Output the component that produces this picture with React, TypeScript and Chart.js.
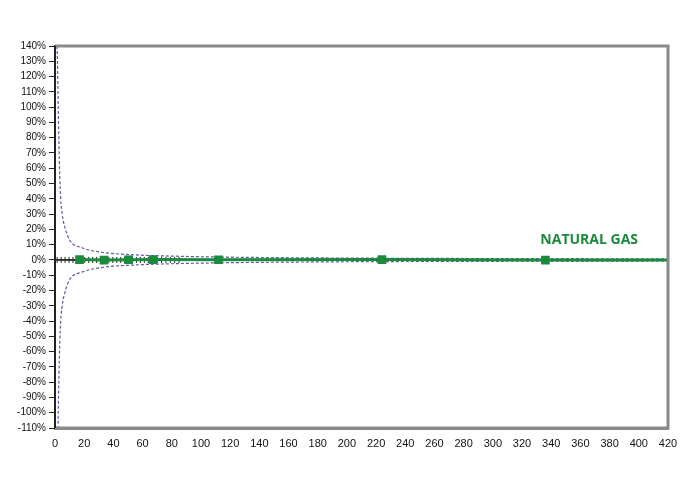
import React, { useEffect, useRef } from "react";
import { Chart, registerables } from "chart.js";

Chart.register(...registerables);

// Envelope (dashed): x (units) and upper / lower bound (%)
const envelopeX = [1.4, 1.8, 2.4, 3.6, 4.8, 6.6, 10, 18.5, 32, 55, 80, 120, 200, 300, 420];
const envelopeUpper = [140, 125, 90, 46, 31, 22, 13, 8, 5, 3.3, 2.5, 1.8, 1.2, 0.9, 0.7];
const envelopeLower = [-140, -125, -90, -46, -31, -22, -13, -8, -5, -3.3, -2.5, -1.8, -1.2, -0.9, -0.7];

// Black reference line at zero with "+" markers
const refX = [0, 1.5, 4.2, 6.9, 9.6, 12.3, 15, 20.4, 23.1, 25.8, 28.5, 31.2, 36.9, 39.6, 42.3, 45, 47.7, 53.1, 55.8, 58.5, 61.2, 63.9, 70, 73, 76, 79, 82, 85, 420];
const refY = [0, 0, 0, 0, 0, 0, 0, 0, 0, 0, 0, 0, 0, 0, 0, 0, 0, 0, 0, 0, 0, 0, 0, 0, 0, 0, 0, 0, 0];

// Natural gas series
const gasX = [16.8, 33.6, 50.4, 67.2, 112, 224, 336, 420];
const gasY = [0.2, -0.1, 0.1, 0.2, 0.1, 0.2, -0.1, 0];

const yTicksMin = -110;
const yTicksMax = 140;
const xMin = 0;
const xMax = 420;
const seriesLabel = "NATURAL GAS";
const labelAnchor = { x: 366, y: 13 };

const GREEN = "#1b8a3c";
const ENV = "#5b5ba6";

export default function App() {
  const ref = useRef<HTMLCanvasElement | null>(null);

  useEffect(() => {
    if (!ref.current) return;
    const zip = (xs: number[], ys: number[]) => xs.map((x, i) => ({ x, y: ys[i] }));

    const framePlugin = {
      id: "frame",
      afterDatasetsDraw(chart: any) {
        const { ctx, chartArea: a } = chart;
        ctx.save();
        ctx.strokeStyle = "#8a8a8a";
        ctx.lineWidth = 3;
        ctx.beginPath();
        ctx.moveTo(a.left, a.top);
        ctx.lineTo(a.right, a.top);
        ctx.lineTo(a.right, a.bottom);
        ctx.lineTo(a.left, a.bottom);
        ctx.stroke();
        ctx.strokeStyle = "#222";
        ctx.lineWidth = 2;
        ctx.beginPath();
        ctx.moveTo(a.left, a.top);
        ctx.lineTo(a.left, a.bottom);
        ctx.stroke();
        // label
        const px = chart.scales.x.getPixelForValue(labelAnchor.x);
        const py = chart.scales.y.getPixelForValue(labelAnchor.y);
        ctx.fillStyle = GREEN;
        ctx.font = "bold 14px 'Open Sans', 'Liberation Sans', sans-serif";
        ctx.textAlign = "center";
        ctx.textBaseline = "middle";
        ctx.fillText(seriesLabel, px, py);
        ctx.restore();
      },
    };

    const chart = new Chart(ref.current, {
      type: "scatter",
      data: {
        datasets: [
          {
            data: zip(envelopeX, envelopeUpper),
            showLine: true,
            borderColor: ENV,
            borderWidth: 1.2,
            borderDash: [3, 2],
            pointRadius: 0,
            cubicInterpolationMode: "monotone",
            order: 3,
          },
          {
            data: zip(envelopeX, envelopeLower),
            showLine: true,
            borderColor: ENV,
            borderWidth: 1.2,
            borderDash: [3, 2],
            pointRadius: 0,
            cubicInterpolationMode: "monotone",
            order: 3,
          },
          {
            data: zip(refX, refY),
            showLine: true,
            borderColor: "#222",
            borderWidth: 1.2,
            pointStyle: "cross",
            pointRadius: (c: any) => (c.dataIndex === 0 || c.dataIndex === refX.length - 1 ? 0 : 3),
            pointBorderColor: "#222",
            pointBorderWidth: 1,
            order: 2,
          },
          {
            data: zip(gasX, gasY),
            showLine: true,
            borderColor: GREEN,
            borderWidth: 3,
            pointStyle: "rect",
            pointRadius: (c: any) => (c.dataIndex === gasX.length - 1 ? 0 : 4),
            pointBackgroundColor: GREEN,
            pointBorderColor: GREEN,
            order: 1,
          },
        ],
      },
      options: {
        animation: false,
        responsive: false,
        maintainAspectRatio: false,
        layout: { padding: { left: 0, top: 46, right: 28, bottom: 0 } },
        plugins: { legend: { display: false }, tooltip: { enabled: false } },
        scales: {
          x: {
            type: "linear",
            min: xMin,
            max: xMax,
            ticks: {
              stepSize: 20,
              color: "#111",
              font: { family: "'Liberation Sans', Arial, sans-serif", size: 11 },
              padding: 1,
              maxRotation: 0,
            },
            grid: { display: false },
            border: { display: true, color: "#8a8a8a", width: 3 },
            afterFit: (s: any) => {
              s.height = 49;
            },
          },
          y: {
            type: "linear",
            min: yTicksMin,
            max: yTicksMax,
            ticks: {
              stepSize: 10,
              color: "#111",
              font: { family: "'Liberation Sans', Arial, sans-serif", size: 10 },
              padding: 3,
              callback: (v: any) => `${v}%`,
            },
            grid: {
              drawOnChartArea: false,
              drawTicks: true,
              tickLength: 6,
              color: "#222",
              lineWidth: 1,
            },
            border: { display: true, color: "#222", width: 2 },
            afterFit: (s: any) => {
              s.width = 55;
            },
          },
        },
      },
      plugins: [framePlugin],
    } as any);

    return () => chart.destroy();
  }, []);

  return (
    <div style={{ position: "fixed", left: 0, top: 0, width: 696, height: 477, background: "#fff" }}>
      <canvas ref={ref} width={696} height={477} style={{ width: 696, height: 477 }} />
    </div>
  );
}
